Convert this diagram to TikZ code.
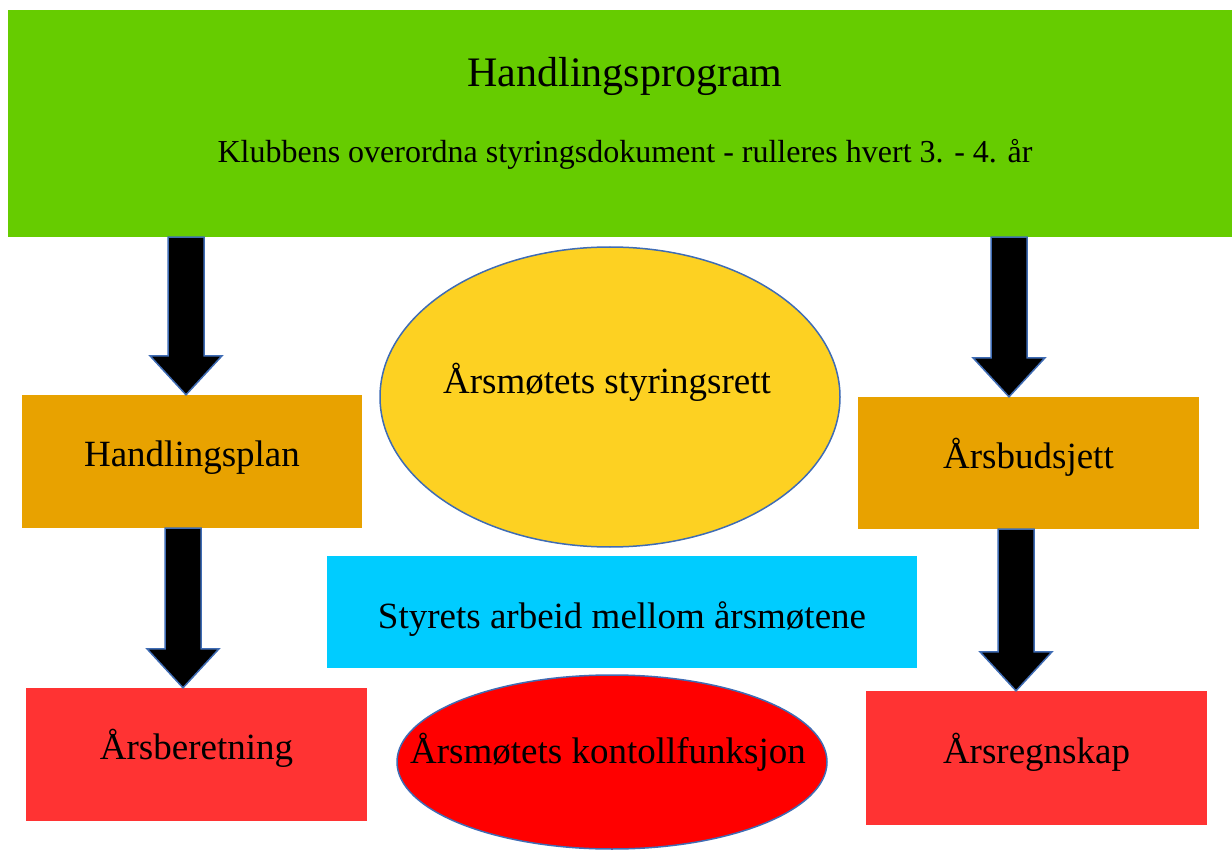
\documentclass[tikz,border=0pt]{standalone}
\usepackage{fontspec}
\setmainfont{Liberation Serif}
\usetikzlibrary{shapes.geometric,calc}

\definecolor{progGreen}{HTML}{66CC00}
\definecolor{planGold}{HTML}{E8A200}
\definecolor{reportRed}{HTML}{FF3333}
\definecolor{rightYellow}{HTML}{FDD122}
\definecolor{boardCyan}{HTML}{00CCFF}
\definecolor{controlRed}{HTML}{FF0000}
\definecolor{edgeBlue}{HTML}{3F6CB4}

% block arrow: #1 = top of the shaft, #2 = tip
\newcommand\blockarrow[2]{%
  \draw[blockarr] let \p1=(#1), \p2=(#2) in
    (\x1-18pt,\y1) -- (\x1+18pt,\y1) -- (\x1+18pt,\y2+39pt) -- (\x1+36pt,\y2+39pt)
    -- (\x1,\y2) -- (\x1-36pt,\y2+39pt) -- (\x1-18pt,\y2+39pt) -- cycle;}

\begin{document}
\begin{tikzpicture}
      [%%%%%%%%%%%%%%%%%%%%%%%%%%%%%%
      x=1pt, y=-1pt,
      box/.style={rectangle, draw=none, inner sep=0pt, text height=26pt, text depth=16pt,
        font=\fontsize{37}{44}\selectfont},
      oval/.style={ellipse, draw=edgeBlue, line width=1.5pt, inner sep=0pt},
      txt/.style={inner sep=0pt, anchor=base, font=\fontsize{37}{44}\selectfont},
      blockarr/.style={fill=black, draw=edgeBlue, line width=1.5pt, line join=miter},
      ]%%%%%%%%%%%%%%%%%%%%%%%%%%%%%%
      \useasboundingbox (0,0) rectangle (1232,850);

      % top document
      \node[rectangle, fill=progGreen, minimum width=1224pt, minimum height=227pt, inner sep=0pt] (prog) at (620,123.5) {};
      \node[txt, font=\fontsize{42}{50}\selectfont] (progtitle) at (625,87) {Handlingsprogram};
      \node[txt, font=\fontsize{32}{38}\selectfont] (progsub) at (625,163) {Klubbens overordna styringsdokument - rulleres hvert 3. - 4. år};

      % left and right columns
      \node[box, fill=planGold, minimum width=340pt, minimum height=133pt] (plan) at (192,461.5) {Handlingsplan};
      \node[box, fill=planGold, minimum width=341pt, minimum height=132pt] (budsjett) at (1028.5,463) {Årsbudsjett};
      \node[box, fill=reportRed, minimum width=341pt, minimum height=133pt] (beretning) at (196.5,754.5) {Årsberetning};
      \node[box, fill=reportRed, minimum width=341pt, minimum height=134pt] (regnskap) at (1036.5,758) {Årsregnskap};

      % middle column
      \node[oval, fill=rightYellow, minimum width=460pt, minimum height=300pt] (styring) at (610,397) {};
      \node[txt] (styringtxt) at (607,393) {Årsmøtets styringsrett};
      \node[box, fill=boardCyan, minimum width=590pt, minimum height=112pt, text height=32pt, text depth=0pt] (styret) at (622,612) {Styrets arbeid mellom årsmøtene};
      \node[oval, fill=controlRed, minimum width=430pt, minimum height=174pt] (kontroll) at (612,762) {};
      \node[txt] (kontrolltxt) at (608,763) {Årsmøtets kontollfunksjon};

      % arrows
      \coordinate (l1) at (186,0);
      \coordinate (l2) at (183,0);
      \coordinate (r1) at (1009,0);
      \coordinate (r2) at (1016,0);
      \blockarrow{prog.south -| l1}{plan.north -| l1}
      \blockarrow{plan.south -| l2}{beretning.north -| l2}
      \blockarrow{prog.south -| r1}{budsjett.north -| r1}
      \blockarrow{budsjett.south -| r2}{regnskap.north -| r2}
    \end{tikzpicture}
\end{document}
